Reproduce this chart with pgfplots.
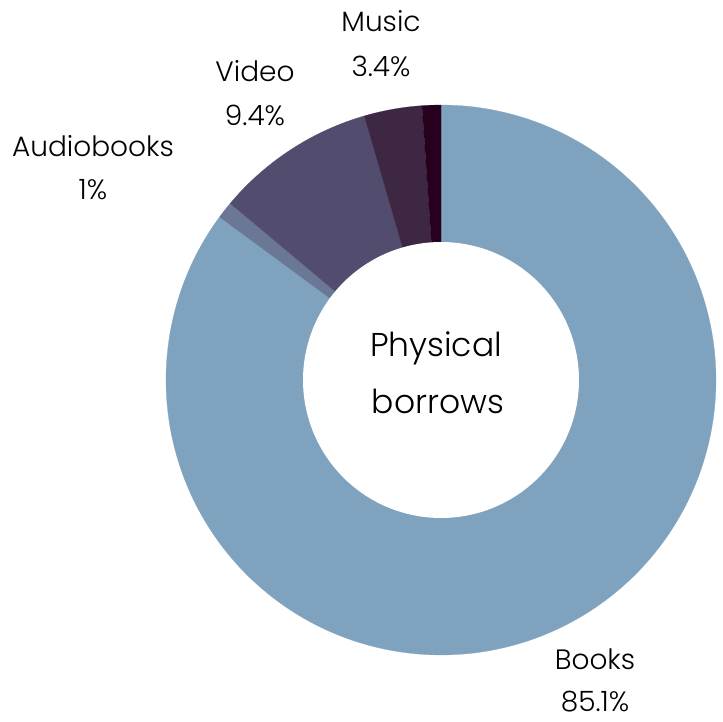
\documentclass[border=0pt]{standalone}
\usepackage{pgfplots}
\pgfplotsset{compat=1.18}
\usepackage{fontspec}
\setmainfont{Poppins}[UprightFont=* Light]
\definecolor{cBooks}{HTML}{7FA2BF}
\definecolor{cAudio}{HTML}{6A7795}
\definecolor{cVideo}{HTML}{524C6E}
\definecolor{cMusic}{HTML}{3D2742}
\definecolor{cOther}{HTML}{27001D}
% shares (percent), clockwise from 12 o'clock:
% Books 85.1, Audiobooks 1.0, Video 9.4, Music 3.4, Other 1.1
\begin{document}
\begin{tikzpicture}
\path[use as bounding box] (0,0) rectangle (723pt,721pt);
\begin{axis}[
  at={(0,0)}, anchor=south west,
  x=1pt, y=1pt,
  xmin=-441, xmax=282, ymin=-341, ymax=380,
  hide axis, clip=false,
]
% Books 85.1
\addplot[draw=cBooks, line width=0.2pt, fill=cBooks, domain={90-3.6*85.1}:90, samples=300, variable=\t]
  ({275*cos(\t)},{275*sin(\t)}) -- (axis cs:0,0) -- cycle;
% Audiobooks 1.0
\addplot[draw=cAudio, line width=0.2pt, fill=cAudio, domain={90-3.6*86.1}:{90-3.6*85.1}, samples=10, variable=\t]
  ({275*cos(\t)},{275*sin(\t)}) -- (axis cs:0,0) -- cycle;
% Video 9.4
\addplot[draw=cVideo, line width=0.2pt, fill=cVideo, domain={90-3.6*95.5}:{90-3.6*86.1}, samples=60, variable=\t]
  ({275*cos(\t)},{275*sin(\t)}) -- (axis cs:0,0) -- cycle;
% Music 3.4
\addplot[draw=cMusic, line width=0.2pt, fill=cMusic, domain={90-3.6*98.9}:{90-3.6*95.5}, samples=20, variable=\t]
  ({275*cos(\t)},{275*sin(\t)}) -- (axis cs:0,0) -- cycle;
% Other 1.1
\addplot[draw=cOther, line width=0.2pt, fill=cOther, domain={90-3.6*100}:{90-3.6*98.9}, samples=10, variable=\t]
  ({275*cos(\t)},{275*sin(\t)}) -- (axis cs:0,0) -- cycle;
% hole
\addplot[draw=none, fill=white, domain=0:360, samples=200, variable=\t]
  ({138*cos(\t)},{138*sin(\t)}) -- cycle;
% labels
\tikzset{lab/.style={anchor=base, inner sep=0pt, font=\fontsize{28}{33}\selectfont},
         ctr/.style={anchor=base, inner sep=0pt, font=\fontsize{33}{39}\selectfont}}
\node[lab] at (axis cs:-348,223) {Audiobooks};
\node[lab] at (axis cs:-348,180) {1\%};
\node[lab] at (axis cs:-186,298) {Video};
\node[lab] at (axis cs:-186,254) {9.4\%};
\node[lab] at (axis cs:-60,348) {Music};
\node[lab] at (axis cs:-60,303) {3.4\%};
\node[lab] at (axis cs:154,-289) {Books};
\node[lab] at (axis cs:154,-331) {85.1\%};
\node[ctr] at (axis cs:-5,23) {Physical};
\node[ctr] at (axis cs:-3,-34) {borrows};
\end{axis}
\end{tikzpicture}
\end{document}
